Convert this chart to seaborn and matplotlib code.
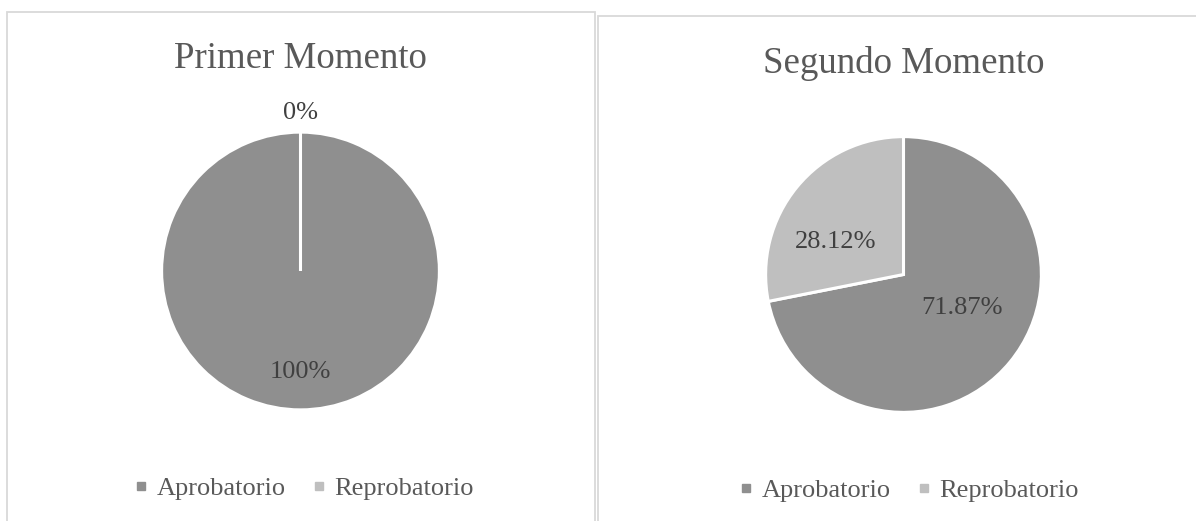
import matplotlib
matplotlib.use("Agg")
import matplotlib.pyplot as plt
from matplotlib.patches import Rectangle
from matplotlib.lines import Line2D
import seaborn as sns

# Data
categories = ["Aprobatorio", "Reprobatorio"]
primer_values = [100, 0]
segundo_values = [71.87, 28.12]
primer_labels = ["100%", "0%"]
segundo_labels = ["71.87%", "28.12%"]
titles = ["Primer Momento", "Segundo Momento"]

sns.set_theme(style="white")
plt.rcParams["font.family"] = ["Liberation Serif", "DejaVu Serif"]

colors = ["#8f8f8f", "#bfbfbf"]
text_color = "#595959"
label_color = "#404040"
border_color = "#d9d9d9"

W, H = 1196, 521
fig = plt.figure(figsize=(W / 100, H / 100), dpi=100)
fig.patch.set_facecolor("white")


def fx(px):
    return px / W


def fy(py):
    return 1 - py / H


# Panel frames
fig.patches.append(Rectangle((fx(7), fy(540)), fx(595) - fx(7), fy(12) - fy(540),
                             transform=fig.transFigure, fill=False,
                             edgecolor=border_color, linewidth=1.3))
fig.patches.append(Rectangle((fx(598), fy(540)), fx(1220) - fx(598), fy(16) - fy(540),
                             transform=fig.transFigure, fill=False,
                             edgecolor=border_color, linewidth=1.3))

panels = [
    dict(values=primer_values, labels=primer_labels, center=(300.5, 271), r=137.5,
         label_pos=[(0.0, -0.735), (0.0, 1.15)], title_xy=(300, 68), legend_xy=(302, 488)),
    dict(values=segundo_values, labels=segundo_labels, center=(903.5, 274.5), r=136.5,
         label_pos=[(0.43, -0.245), (-0.50, 0.24)], title_xy=(904, 73), legend_xy=(907, 490)),
]

lim = 1.25
for title, p in zip(titles, panels):
    cx, cy = p["center"]
    half = lim * p["r"]
    ax = fig.add_axes([fx(cx - half), fy(cy + half), 2 * half / W, 2 * half / H])
    ax.pie(p["values"], colors=colors, startangle=90, counterclock=False,
           radius=1.01, wedgeprops=dict(edgecolor="white", linewidth=2.2))
    ax.set_xlim(-lim, lim)
    ax.set_ylim(-lim, lim)
    ax.set_aspect("equal")
    ax.axis("off")
    for txt, (lx, ly) in zip(p["labels"], p["label_pos"]):
        ax.text(lx, ly, txt, ha="center", va="center", fontsize=19, color=label_color)

    tx, ty = p["title_xy"]
    fig.text(fx(tx), fy(ty), title, ha="center", va="baseline", fontsize=26.6, color=text_color)

    handles = [Line2D([], [], marker="s", linestyle="none", markersize=6,
                      markerfacecolor=c, markeredgecolor=c) for c in colors]
    lx, ly = p["legend_xy"]
    fig.legend(handles, categories, loc="center", bbox_to_anchor=(fx(lx), fy(ly)),
               ncol=2, frameon=False, fontsize=19, labelcolor=text_color,
               handletextpad=0.18, columnspacing=0.85, handlelength=0.8,
               borderaxespad=0, borderpad=0)

fig.savefig("out.png", dpi=100, facecolor="white")
